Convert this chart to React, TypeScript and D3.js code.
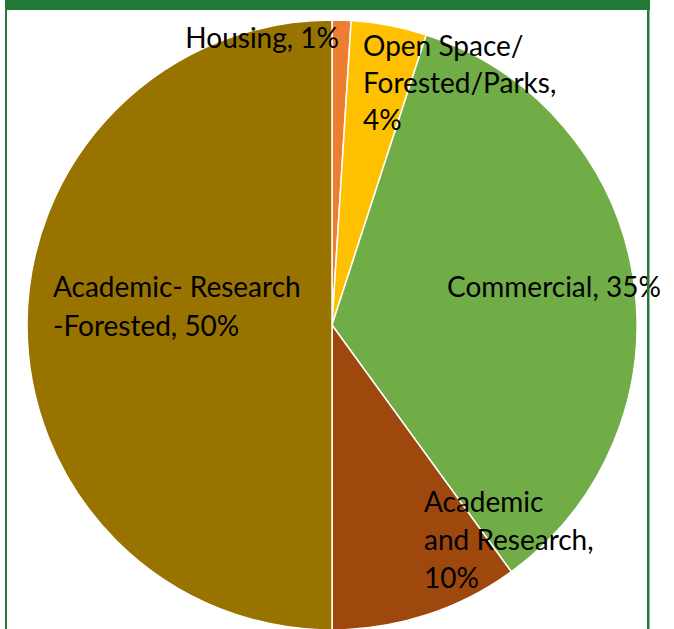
import { useRef, useEffect } from "react";
import * as d3 from "d3";

// Land use shares (percent), clockwise from 12 o'clock
const categories = [
  "Housing",
  "Open Space/Forested/Parks",
  "Commercial",
  "Academic and Research",
  "Academic- Research -Forested",
];
const shares = [1, 4, 35, 10, 50];
const colors = ["#ED7D31", "#FFC000", "#70AD47", "#9E480E", "#997300"];

// Label text broken into lines as in the original
const labelLines = [
  ["Housing, 1%"],
  ["Open Space/", "Forested/Parks,", "4%"],
  ["Commercial, 35%"],
  ["Academic", "and Research,", "10%"],
  ["Academic- Research", "-Forested, 50%"],
];

export default function App() {
  const chartRef = useRef<HTMLDivElement>(null);

  useEffect(() => {
    if (!chartRef.current) return;
    d3.select(chartRef.current).selectAll("*").remove();

    const width = 674;
    const height = 629;
    const cx = 332;
    const cy = 325;
    const radius = 305;

    const svg = d3
      .select(chartRef.current)
      .append("svg")
      .attr("width", width)
      .attr("height", height)
      .style("display", "block");

    svg.append("rect").attr("width", width).attr("height", height).attr("fill", "#fff");

    const pie = d3
      .pie<number>()
      .sort(null)
      .value((d) => d);
    const arc = d3.arc<d3.PieArcDatum<number>>().innerRadius(0).outerRadius(radius);

    const g = svg.append("g").attr("transform", `translate(${cx},${cy})`);

    g.selectAll("path")
      .data(pie(shares))
      .enter()
      .append("path")
      .attr("d", arc)
      .attr("fill", (_, i) => colors[i])
      .attr("stroke", "#fff")
      .attr("stroke-width", 1.5);

    // label placement relative to pie centre: [dx, dy of first baseline, anchor, line gap]
    const labelLayout: [number, number, string, number][] = [
      [7, -277, "end", 37],
      [31, -269, "start", 37],
      [115, -28, "start", 38],
      [92, 187, "start", 38],
      [-279, -28, "start", 39],
    ];

    labelLines.forEach((lines, i) => {
      const [dx, dy, anchor, gap] = labelLayout[i];
      const t = g
        .append("text")
        .attr("x", dx)
        .attr("y", dy)
        .attr("text-anchor", anchor)
        .attr("font-family", "Lato, 'Open Sans', sans-serif")
        .attr("font-size", "28px")
        .attr("fill", "#000");
      lines.forEach((line, j) => {
        t.append("tspan").attr("x", dx).attr("y", dy + j * gap).text(line);
      });
      t.append("title").text(categories[i]);
    });

    // frame: green header bar and side borders
    const frame = "#237A36";
    svg.append("rect").attr("x", 5).attr("y", 0).attr("width", 645).attr("height", 10).attr("fill", frame);
    svg.append("rect").attr("x", 5).attr("y", 0).attr("width", 2).attr("height", height).attr("fill", frame);
    svg.append("rect").attr("x", 647).attr("y", 0).attr("width", 2.5).attr("height", height).attr("fill", frame);
  }, []);

  return (
    <div style={{ position: "absolute", left: 0, top: 0 }}>
      <div ref={chartRef}></div>
    </div>
  );
}
